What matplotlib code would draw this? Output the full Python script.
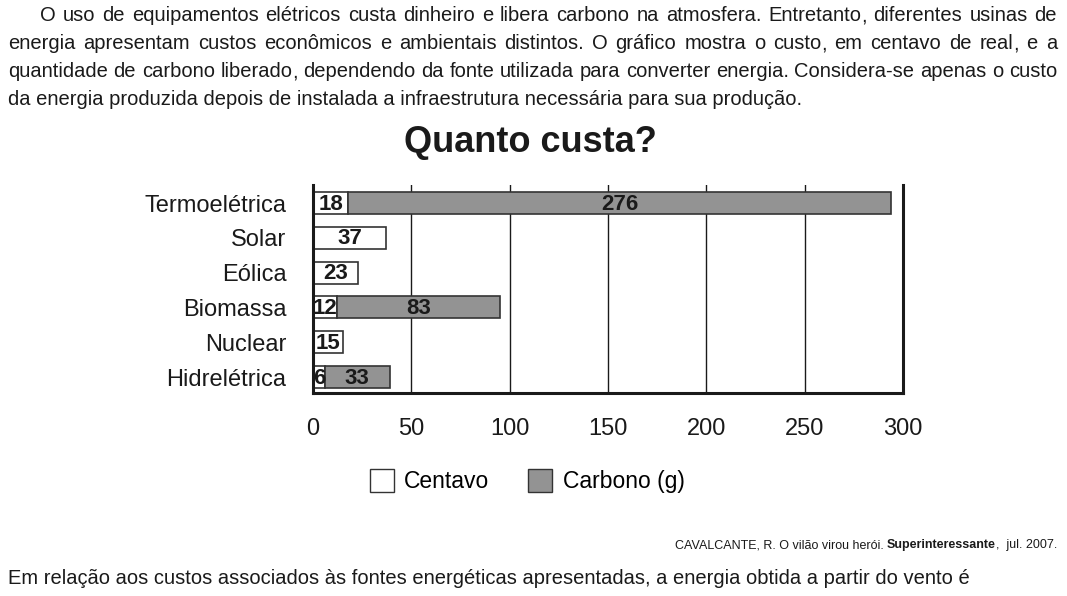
"""
Quanto custa? - stacked bar chart (centavo + carbono) by energy source.
"""
import matplotlib
matplotlib.use("Agg")
import matplotlib.pyplot as plt
import matplotlib.patches as mpatches

# ── Data ───────────────────────────────────────────────────────────────────
FONTES   = ["Termoelétrica", "Solar", "Eólica", "Biomassa", "Nuclear", "Hidrelétrica"]
CENTAVO  = [18, 37, 23, 12, 15, 6]
CARBONO  = [276, 0, 0, 83, 0, 33]
X_TICKS  = [0, 50, 100, 150, 200, 250, 300]

PARAGRAPH = [
    "O uso de equipamentos elétricos custa dinheiro e libera carbono na atmosfera. Entretanto, diferentes usinas de",
    "energia apresentam custos econômicos e ambientais distintos. O gráfico mostra o custo, em centavo de real, e a",
    "quantidade de carbono liberado, dependendo da fonte utilizada para converter energia. Considera-se apenas o custo",
    "da energia produzida depois de instalada a infraestrutura necessária para sua produção.",
]
QUESTION = "Em relação aos custos associados às fontes energéticas apresentadas, a energia obtida a partir do vento é"

# ── Design tokens ──────────────────────────────────────────────────────────
INK    = "#1a1a1a"
GRAY   = "#939393"
EDGE   = "#333333"
WHITE  = "#FFFFFF"
TEXT_FONT = "Liberation Sans"

W, H = 1067, 596
fig = plt.figure(figsize=(W / 100, H / 100), dpi=100)
fig.patch.set_facecolor(WHITE)
renderer = fig.canvas.get_renderer()


def px(x, y):
    """pixel coords (top-left origin) -> figure fraction"""
    return x / W, 1 - y / H


def width_of(s, size):
    probe = fig.text(0, 0, s, fontsize=size, family=TEXT_FONT)
    w = probe.get_window_extent(renderer).width
    probe.remove()
    return w


def put(s, x, y, size):
    fig.text(*px(x, y), s, fontsize=size, family=TEXT_FONT, color=INK,
             ha="left", va="baseline")


def text_line(line, x0, x1, y, size, justify=True):
    # y is the baseline in pixels
    if not justify:
        put(line, x0, y, size)
        return
    words = line.split(" ")
    widths = [width_of(w, size) for w in words]
    gap = (x1 - x0 - sum(widths)) / (len(words) - 1)
    x = x0
    for w, wd in zip(words, widths):
        if w.endswith(","):
            # comma drawn on its own, keeps the word on the common baseline
            put(w[:-1], x, y, size)
            put(",", x + width_of(w[:-1], size), y, size)
        else:
            put(w, x, y, size)
        x += wd + gap


# ── Paragraph ──────────────────────────────────────────────────────────────
PARA_SIZE = 14.5
LINE_Y = [21, 49, 77, 105]
for i, line in enumerate(PARAGRAPH):
    x0 = 40 if i == 0 else 8
    text_line(line, x0, 1057, LINE_Y[i], PARA_SIZE, justify=(i < 3))

text_line(QUESTION, 8, 970, 584, PARA_SIZE, justify=False)

# ── Title ──────────────────────────────────────────────────────────────────
fig.text(*px(530, 143), "Quanto custa?", fontsize=26, fontweight="bold",
         family=TEXT_FONT, color=INK, ha="center", va="center")

# ── Chart ──────────────────────────────────────────────────────────────────
ax = fig.add_axes([313 / W, 1 - 393 / H, (903 - 313) / W, (393 - 185) / H])
ypos = list(range(len(FONTES)))
BAR_H = 0.63

ax.barh(ypos, CENTAVO, height=BAR_H, color=WHITE, edgecolor=EDGE, linewidth=1.2, zorder=3)
carb_bars = ax.barh(ypos, CARBONO, left=CENTAVO, height=BAR_H, color=GRAY,
                    edgecolor=EDGE, linewidth=1.2, zorder=3)
for b, c in zip(carb_bars, CARBONO):
    if c == 0:
        b.set_visible(False)

for y, c, g in zip(ypos, CENTAVO, CARBONO):
    ax.text(c / 2, y + 0.03, str(c), fontsize=16, fontweight="bold", family=TEXT_FONT,
            color=INK, ha="center", va="center", zorder=4)
    if g:
        ax.text(c + g / 2, y + 0.03, str(g), fontsize=16, fontweight="bold", family=TEXT_FONT,
                color=INK, ha="center", va="center", zorder=4)

ax.set_xlim(0, 300)
ax.set_ylim(5.46, -0.52)
ax.set_xticks(X_TICKS)
ax.set_yticks(ypos)
ax.set_yticklabels(FONTES)
ax.tick_params(length=0, labelsize=17, colors=INK)
ax.tick_params(axis="x", pad=18)
ax.tick_params(axis="y", pad=19)
for lab in ax.get_xticklabels() + ax.get_yticklabels():
    lab.set_family(TEXT_FONT)

for xv in X_TICKS[1:-1]:
    ax.axvline(xv, color=INK, linewidth=1.0, zorder=1)

ax.spines["top"].set_visible(False)
for side in ("left", "bottom", "right"):
    ax.spines[side].set_linewidth(2.2)
    ax.spines[side].set_color(INK)
    ax.spines[side].set_zorder(5)

# ── Legend ─────────────────────────────────────────────────────────────────
handles = [
    mpatches.Patch(facecolor=WHITE, edgecolor=EDGE, linewidth=1.0, label="Centavo"),
    mpatches.Patch(facecolor=GRAY, edgecolor=EDGE, linewidth=1.0, label="Carbono (g)"),
]
fig.legend(handles=handles, loc="center", bbox_to_anchor=px(527, 481), ncol=2,
           frameon=False, prop={"family": TEXT_FONT, "size": 16.5},
           handlelength=1.05, handleheight=1.2, handletextpad=0.45, columnspacing=1.7)

# ── Source ─────────────────────────────────────────────────────────────────
src_x, src_y = px(1057, 545)
t_end = fig.text(src_x, src_y, ",  jul. 2007.", fontsize=9, family=TEXT_FONT,
                 color=INK, ha="right", va="center")
w_end = t_end.get_window_extent(renderer).width / W
t_mag = fig.text(src_x - w_end, src_y, "Superinteressante", fontsize=9, fontweight="bold",
                 family=TEXT_FONT, color=INK, ha="right", va="center")
w_mag = t_mag.get_window_extent(renderer).width / W
fig.text(src_x - w_end - w_mag, src_y, "CAVALCANTE, R. O vilão virou herói. ", fontsize=9,
         family=TEXT_FONT, color=INK, ha="right", va="center")

fig.savefig("out.png", dpi=100, facecolor=WHITE)
plt.close(fig)
